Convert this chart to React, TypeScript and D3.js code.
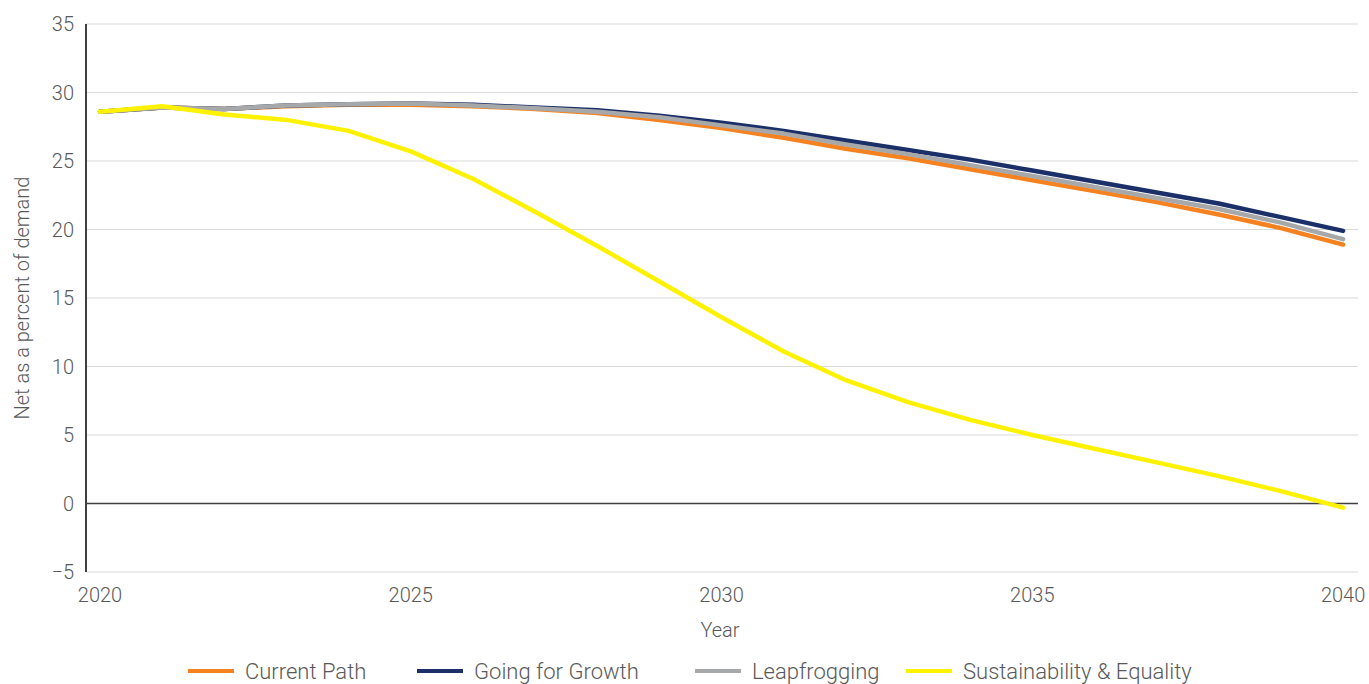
import React from "react";
import * as d3 from "d3";

const years = d3.range(2020, 2041);

const currentPath = [28.6, 28.9, 28.8, 29.0, 29.1, 29.1, 29.0, 28.8, 28.5, 28.0, 27.4, 26.7, 25.9, 25.2, 24.4, 23.6, 22.8, 22.0, 21.1, 20.1, 18.9];
const goingForGrowth = [28.6, 28.9, 28.8, 29.05, 29.15, 29.2, 29.1, 28.9, 28.7, 28.3, 27.8, 27.2, 26.5, 25.8, 25.1, 24.3, 23.5, 22.7, 21.9, 20.9, 19.9];
const leapfrogging = [28.6, 28.9, 28.8, 29.05, 29.15, 29.2, 29.05, 28.85, 28.6, 28.2, 27.6, 27.0, 26.2, 25.5, 24.7, 23.9, 23.1, 22.3, 21.5, 20.5, 19.3];
const sustainability = [28.6, 29.0, 28.4, 28.0, 27.2, 25.7, 23.7, 21.3, 18.8, 16.2, 13.6, 11.1, 9.0, 7.4, 6.1, 5.0, 4.0, 3.0, 2.0, 0.9, -0.3];

const seriesNames = ["Current Path", "Going for Growth", "Leapfrogging", "Sustainability & Equality"];
const seriesValues = [currentPath, goingForGrowth, leapfrogging, sustainability];
const seriesColors = ["#F58220", "#1B3069", "#A7A8AA", "#FFF200"];

const yTicks = [-5, 0, 5, 10, 15, 20, 25, 30, 35];
const xTicks = [2020, 2025, 2030, 2035, 2040];

// legend layout: left edge of each swatch
const legendX = [188, 417, 695, 906];

const W = 1369;
const H = 684;
const M = { left: 86, right: 1358, top: 24, bottom: 572 };
const FONT = "Roboto, 'Liberation Sans', sans-serif";
const TEXT = "#595959";

export default function App() {
  const x = d3.scaleLinear().domain([2019.775, 2040.24]).range([M.left, M.right]);
  const y = d3.scaleLinear().domain([-5, 35]).range([M.bottom, M.top]);
  const line = d3
    .line<number>()
    .x((_, i) => x(years[i]))
    .y((v) => y(v))
    .curve(d3.curveLinear);

  return (
    <svg
      width={W}
      height={H}
      style={{ position: "absolute", left: 0, top: 0, background: "#fff" }}
      fontFamily={FONT}
    >
      {/* gridlines */}
      {yTicks.map((t) => (
        <line
          key={"g" + t}
          x1={M.left}
          x2={M.right}
          y1={y(t)}
          y2={y(t)}
          stroke={t === 0 ? "#404040" : "#D9D9D9"}
          strokeWidth={t === 0 ? 1.5 : 1.2}
        />
      ))}
      {/* y axis line */}
      <line x1={M.left} x2={M.left} y1={M.top} y2={M.bottom} stroke="#404040" strokeWidth={2} />

      {/* y tick labels */}
      {yTicks.map((t) => (
        <text
          key={"yl" + t}
          x={74}
          y={y(t)}
          dy="0.35em"
          textAnchor="end"
          fontSize={20}
          fontWeight={300}
          fill={TEXT}
        >
          {t < 0 ? "\u2212" + Math.abs(t) : t}
        </text>
      ))}

      {/* x tick labels */}
      {xTicks.map((t) => (
        <text
          key={"xl" + t}
          x={x(t)}
          y={602}
          textAnchor="middle"
          fontSize={20}
          fontWeight={300}
          fill={TEXT}
        >
          {t}
        </text>
      ))}

      {/* axis titles */}
      <text x={720} y={637} textAnchor="middle" fontSize={20} fontWeight={300} fill={TEXT}>
        Year
      </text>
      <text
        transform={`translate(29, ${y(15)}) rotate(-90)`}
        textAnchor="middle"
        fontSize={20}
        fontWeight={300}
        fill={TEXT}
      >
        Net as a percent of demand
      </text>

      {/* series */}
      {[0, 1, 2, 3].map((i) => (
        <path
          key={"s" + i}
          d={line(seriesValues[i]) || ""}
          fill="none"
          stroke={seriesColors[i]}
          strokeWidth={4.5}
          strokeLinecap="round"
          strokeLinejoin="round"
        />
      ))}

      {/* legend */}
      {seriesNames.map((name, i) => (
        <g key={"lg" + i} transform={`translate(${legendX[i]}, 671)`}>
          <line x1={0} x2={46} y1={0} y2={0} stroke={seriesColors[i]} strokeWidth={4} />
          <text x={57} y={0} dy="0.35em" fontSize={22} fontWeight={300} fill={TEXT}>
            {name}
          </text>
        </g>
      ))}
    </svg>
  );
}
